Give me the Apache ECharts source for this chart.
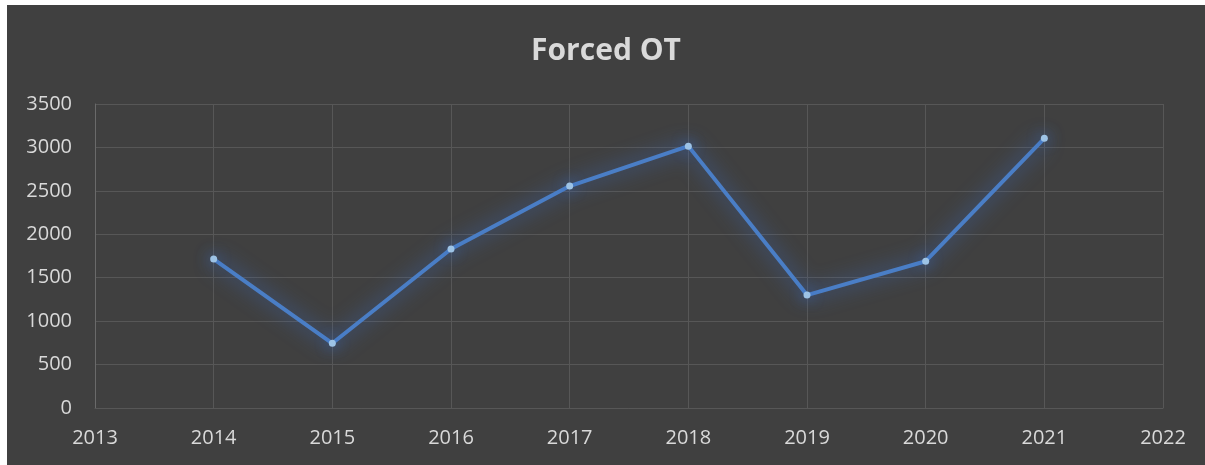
<!DOCTYPE html>
<html>
<head>
<meta charset="utf-8">
<script src="https://cdn.jsdelivr.net/npm/echarts@6/dist/echarts.min.js"></script>
<style>
  html, body { margin: 0; padding: 0; background: #ffffff; }
  #chart { position: absolute; left: 7px; top: 5px; width: 1198px; height: 460px; }
</style>
</head>
<body>
<div id="chart"></div>
<script>
// data
const years = [2014, 2015, 2016, 2017, 2018, 2019, 2020, 2021]
const forcedOT = [1715, 745, 1830, 2555, 3015, 1300, 1690, 3105]

const textColor = '#d9d9d9'
const gridColor = '#575757'

const chart = echarts.init(document.getElementById('chart'))
chart.setOption({
  backgroundColor: '#404040',
  animation: false,
  textStyle: { fontFamily: 'Open Sans' },
  title: {
    text: 'Forced OT',
    left: 'center',
    top: 26,
    textStyle: { color: textColor, fontSize: 30, fontWeight: 'bold', fontFamily: 'Open Sans' }
  },
  grid: { left: 88, right: 42, top: 99, bottom: 57, containLabel: false },
  xAxis: {
    type: 'value',
    min: 2013,
    max: 2022,
    interval: 1,
    axisLine: { show: true, lineStyle: { color: gridColor, width: 1 } },
    axisTick: { show: false },
    axisLabel: { color: textColor, fontSize: 20, margin: 20, formatter: (v) => String(v) },
    splitLine: { show: true, lineStyle: { color: gridColor, width: 1 } }
  },
  yAxis: {
    type: 'value',
    min: 0,
    max: 3500,
    interval: 500,
    axisLine: { show: true, lineStyle: { color: '#6a6a6a', width: 1 } },
    axisTick: { show: false },
    axisLabel: { color: textColor, fontSize: 20, margin: 23, formatter: (v) => String(v) },
    splitLine: { show: true, lineStyle: { color: gridColor, width: 1 } }
  },
  series: [
    {
      name: 'Forced OT',
      type: 'line',
      data: years.map((y, i) => [y, forcedOT[i]]),
      symbol: 'circle',
      symbolSize: 7,
      lineStyle: {
        color: '#4a7ec6',
        width: 4,
        shadowBlur: 20,
        shadowColor: 'rgba(60, 110, 200, 1)'
      },
      itemStyle: {
        color: '#9dc3e6',
        borderWidth: 0,
        shadowBlur: 14,
        shadowColor: 'rgba(60, 110, 200, 1)'
      }
    }
  ]
})
</script>
</body>
</html>
